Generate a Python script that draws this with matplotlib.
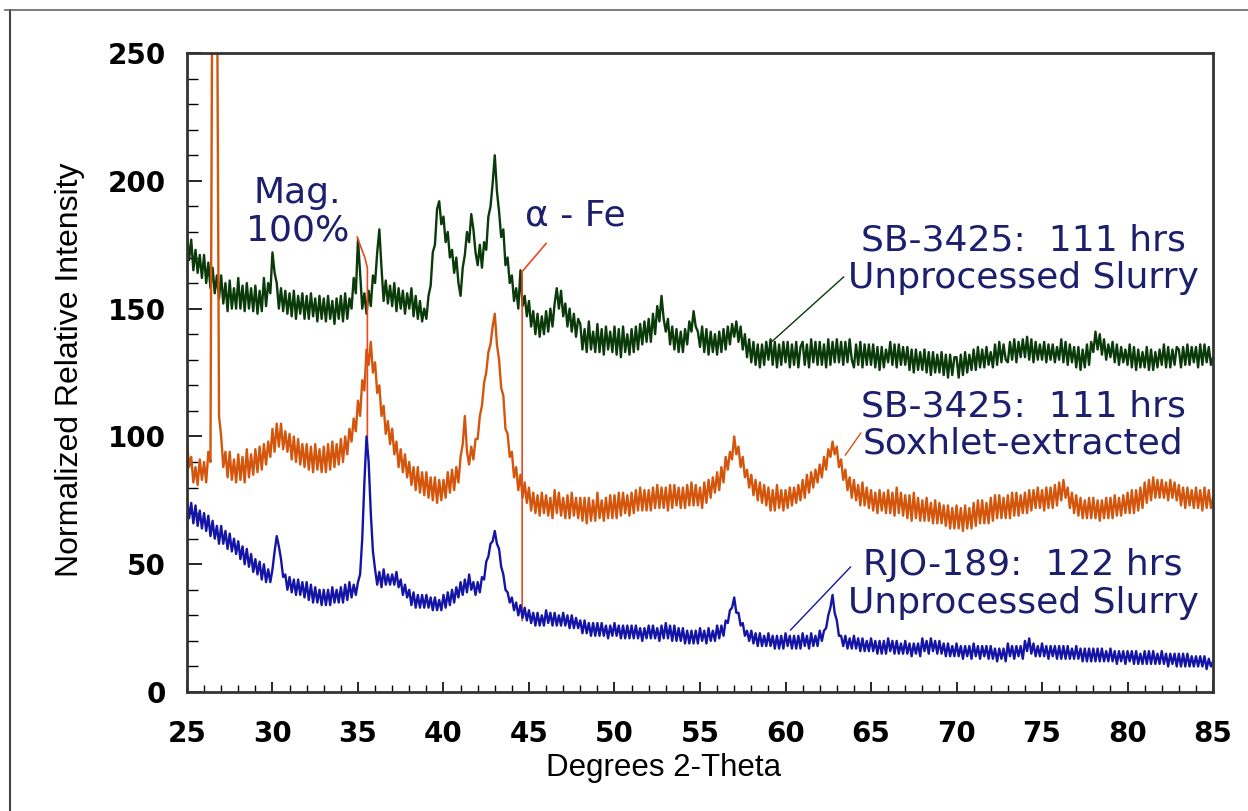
import numpy as np
import matplotlib
matplotlib.use("Agg")
import matplotlib.pyplot as plt
from matplotlib.lines import Line2D
from matplotlib.ticker import MultipleLocator

# 2-theta sampling, 0.125 degree steps from 25 to 85 (one row = one degree)
two_theta = np.linspace(25, 85, 481)

# SB-3425: 111 hrs, unprocessed slurry (green)
sb_unprocessed = [
    180, 169, 177, 165, 173, 164, 171, 162,
    171, 160, 168, 158, 166, 156, 163, 154,
    163, 152, 160, 149, 161, 150, 158, 150,
    162, 150, 159, 149, 160, 150, 158, 149,
    159, 148, 157, 149, 162, 151, 160, 156,
    172, 164, 160, 150, 158, 149, 157, 148,
    156, 147, 157, 146, 155, 148, 156, 146,
    155, 146, 156, 147, 154, 145, 155, 146,
    154, 145, 155, 146, 153, 144, 154, 146,
    155, 145, 156, 146, 154, 150, 162, 156,
    177, 164, 150, 156, 148, 157, 151, 163,
    160, 172, 181, 166, 153, 161, 152, 159,
    151, 160, 149, 158, 150, 157, 148, 156,
    150, 158, 147, 155, 146, 153, 145, 150,
    146, 155, 159, 172, 175, 189, 192, 183,
    186, 176, 180, 170, 173, 164, 170, 160,
    155, 166, 171, 180, 176, 187, 181, 172,
    167, 175, 166, 176, 173, 186, 190, 199,
    210, 196, 188, 178, 181, 167, 170, 160,
    163, 153, 158, 150, 165, 151, 155, 147,
    153, 143, 149, 140, 148, 139, 147, 140,
    149, 141, 150, 143, 152, 158, 150, 157,
    147, 152, 143, 150, 141, 148, 139, 146,
    144, 134, 142, 133, 145, 134, 141, 133,
    144, 133, 142, 132, 143, 134, 141, 133,
    143, 132, 142, 131, 143, 133, 140, 132,
    142, 133, 143, 134, 144, 136, 145, 137,
    146, 137, 148, 140, 151, 145, 155, 146,
    141, 146, 136, 143, 134, 142, 133, 141,
    133, 142, 136, 145, 141, 149, 143, 141,
    135, 143, 133, 142, 132, 141, 133, 140,
    132, 141, 133, 142, 134, 143, 136, 144,
    139, 145, 137, 143, 134, 140, 131, 138,
    129, 137, 128, 136, 127, 136, 128, 137,
    130, 138, 128, 137, 127, 136, 128, 137,
    129, 137, 127, 136, 128, 137, 127, 135,
    137, 128, 136, 127, 138, 129, 137, 128,
    137, 128, 136, 127, 138, 128, 137, 129,
    138, 129, 137, 128, 137, 129, 138, 130,
    127, 136, 128, 137, 127, 136, 128, 136,
    128, 136, 127, 135, 126, 135, 127, 134,
    129, 137, 128, 136, 127, 136, 128, 135,
    128, 135, 126, 134, 125, 134, 126, 133,
    126, 134, 125, 133, 124, 133, 125, 132,
    125, 133, 124, 132, 123, 132, 124, 131,
    131, 123, 132, 124, 133, 125, 132, 126,
    134, 126, 135, 127, 134, 127, 135, 128,
    133, 127, 136, 128, 137, 129, 136, 130,
    129, 137, 130, 138, 129, 137, 131, 138,
    131, 139, 130, 138, 129, 137, 130, 136,
    130, 137, 129, 136, 130, 136, 129, 135,
    130, 138, 129, 137, 128, 136, 129, 135,
    127, 135, 126, 134, 127, 136, 128, 137,
    133, 141, 134, 140, 132, 138, 130, 136,
    131, 137, 129, 136, 128, 135, 129, 134,
    128, 136, 127, 135, 126, 134, 127, 133,
    127, 135, 126, 134, 126, 133, 127, 134,
    128, 136, 127, 135, 127, 134, 128, 135,
    134, 127, 135, 128, 136, 128, 135, 129,
    135, 127, 136, 128, 136, 129, 135, 128,
    131,
]

# SB-3425: 111 hrs, Soxhlet-extracted (orange)
sb_soxhlet = [
    98, 88, 92, 82, 88, 81, 91, 83,
    90, 82, 94, 90, 320, 330, 300, 108,
    100, 88, 94, 84, 94, 83, 91, 82,
    93, 83, 92, 82, 95, 84, 93, 85,
    95, 86, 96, 87, 97, 89, 98, 92,
    103, 94, 105, 96, 105, 95, 102, 94,
    101, 91, 100, 90, 99, 89, 97, 88,
    97, 87, 96, 86, 97, 87, 95, 86,
    96, 86, 97, 87, 98, 88, 97, 89,
    99, 90, 100, 93, 103, 98, 107, 102,
    114, 108, 122, 118, 134, 128, 137, 125,
    129, 117, 120, 108, 112, 101, 106, 97,
    103, 93, 98, 88, 95, 86, 93, 84,
    90, 81, 88, 79, 88, 78, 86, 77,
    86, 76, 84, 75, 84, 74, 83, 75,
    83, 76, 86, 78, 87, 79, 88, 82,
    92, 97, 108, 94, 89, 96, 91, 99,
    99, 108, 112, 121, 125, 133, 136, 143,
    148, 136, 130, 119, 116, 103, 101, 92,
    94, 84, 88, 79, 85, 76, 82, 74,
    80, 71, 78, 70, 77, 69, 78, 70,
    77, 69, 76, 68, 79, 70, 78, 69,
    76, 68, 77, 68, 78, 69, 76, 68,
    76, 67, 76, 66, 76, 67, 75, 67,
    78, 68, 75, 67, 76, 68, 77, 68,
    77, 68, 78, 69, 78, 70, 77, 69,
    78, 70, 79, 71, 80, 71, 79, 71,
    79, 71, 80, 72, 81, 72, 80, 72,
    80, 71, 81, 72, 81, 73, 80, 72,
    80, 72, 81, 73, 82, 73, 81, 73,
    80, 72, 82, 74, 83, 76, 84, 78,
    86, 79, 88, 82, 92, 87, 94, 91,
    100, 93, 96, 88, 92, 84, 87, 80,
    85, 77, 83, 75, 82, 74, 81, 73,
    80, 71, 79, 71, 81, 72, 79, 71,
    79, 72, 80, 73, 80, 74, 81, 75,
    83, 76, 85, 78, 86, 80, 87, 82,
    89, 84, 92, 87, 95, 92, 98, 93,
    96, 88, 91, 83, 87, 79, 84, 76,
    83, 75, 81, 73, 82, 73, 80, 72,
    79, 71, 78, 70, 79, 71, 78, 70,
    79, 70, 78, 69, 80, 70, 78, 69,
    77, 68, 77, 67, 78, 68, 76, 67,
    75, 67, 76, 67, 74, 66, 75, 66,
    74, 66, 73, 65, 73, 64, 72, 64,
    73, 64, 72, 63, 73, 64, 72, 64,
    74, 65, 75, 66, 75, 66, 74, 66,
    76, 67, 77, 68, 77, 68, 76, 68,
    77, 68, 78, 69, 78, 69, 77, 70,
    78, 70, 79, 71, 79, 72, 80, 72,
    79, 71, 80, 72, 80, 72, 81, 73,
    82, 75, 83, 76, 80, 72, 78, 70,
    77, 69, 76, 68, 75, 68, 76, 68,
    76, 68, 75, 67, 75, 68, 76, 68,
    76, 68, 77, 69, 76, 69, 77, 70,
    78, 70, 79, 70, 79, 71, 80, 72,
    82, 74, 83, 75, 84, 76, 83, 76,
    83, 76, 82, 75, 83, 76, 82, 75,
    81, 73, 80, 72, 80, 73, 79, 72,
    80, 72, 79, 71, 80, 72, 79, 72,
    76,
]

# RJO-189: 122 hrs, unprocessed slurry (blue)
rjo_unprocessed = [
    76, 68, 74, 66, 73, 65, 71, 64,
    70, 63, 69, 61, 67, 60, 65, 58,
    65, 58, 63, 56, 62, 55, 60, 54,
    59, 52, 57, 50, 56, 49, 54, 47,
    52, 46, 51, 44, 50, 43, 48, 43,
    48, 55, 61, 57, 52, 45, 46, 40,
    45, 39, 44, 38, 44, 38, 43, 37,
    43, 36, 42, 35, 41, 35, 40, 34,
    40, 34, 40, 34, 41, 35, 40, 35,
    41, 35, 42, 36, 43, 37, 42, 38,
    43, 46, 60, 82, 100, 90, 70, 55,
    48, 42, 47, 41, 48, 42, 46, 42,
    46, 42, 47, 41, 44, 38, 42, 37,
    40, 34, 39, 33, 38, 33, 38, 33,
    38, 33, 37, 32, 37, 32, 36, 32,
    38, 33, 39, 34, 40, 35, 41, 37,
    43, 38, 44, 39, 46, 40, 43, 38,
    43, 39, 45, 44, 51, 53, 58, 59,
    63, 58, 56, 49, 46, 40, 39, 35,
    37, 32, 35, 30, 34, 29, 33, 28,
    32, 27, 31, 26, 31, 26, 30, 26,
    32, 27, 31, 26, 31, 26, 30, 26,
    31, 26, 30, 25, 30, 25, 29, 25,
    28, 23, 28, 23, 27, 22, 27, 22,
    27, 22, 27, 22, 26, 21, 26, 22,
    27, 22, 26, 21, 26, 21, 26, 21,
    26, 21, 26, 21, 25, 20, 25, 21,
    26, 21, 26, 21, 25, 20, 26, 21,
    27, 21, 26, 20, 26, 20, 25, 20,
    25, 19, 24, 19, 24, 19, 24, 19,
    25, 20, 24, 19, 25, 20, 24, 20,
    26, 21, 26, 22, 28, 27, 32, 33,
    37, 31, 31, 26, 27, 22, 24, 20,
    24, 19, 23, 18, 23, 18, 22, 18,
    23, 18, 22, 17, 22, 17, 22, 17,
    23, 18, 22, 17, 22, 17, 22, 17,
    23, 18, 22, 17, 23, 18, 22, 18,
    24, 20, 24, 25, 30, 33, 38, 31,
    28, 22, 22, 18, 22, 17, 21, 17,
    22, 17, 21, 16, 21, 16, 20, 16,
    21, 16, 20, 15, 20, 15, 20, 15,
    21, 16, 20, 15, 20, 15, 19, 15,
    20, 15, 19, 14, 19, 15, 19, 14,
    21, 16, 20, 15, 21, 16, 20, 15,
    20, 15, 19, 14, 19, 14, 18, 14,
    19, 14, 18, 13, 18, 14, 18, 13,
    19, 14, 18, 13, 18, 14, 18, 13,
    18, 13, 17, 12, 17, 13, 17, 12,
    19, 14, 18, 13, 18, 14, 18, 13,
    20, 16, 21, 15, 19, 14, 18, 14,
    19, 14, 18, 13, 18, 14, 18, 13,
    18, 13, 18, 13, 18, 13, 17, 13,
    18, 13, 17, 12, 17, 12, 17, 12,
    17, 12, 17, 12, 17, 12, 16, 12,
    17, 12, 16, 11, 16, 12, 16, 11,
    16, 12, 16, 11, 16, 11, 15, 11,
    16, 11, 16, 11, 16, 11, 15, 11,
    16, 11, 15, 10, 15, 11, 15, 10,
    15, 10, 15, 10, 15, 10, 14, 10,
    14, 10, 14, 10, 14, 9, 13, 10,
    12,
]

series_labels = [
    "SB-3425:  111 hrs\nUnprocessed Slurry",
    "SB-3425:  111 hrs\nSoxhlet-extracted",
    "RJO-189:  122 hrs\nUnprocessed Slurry",
]

GREEN = "#0a3a0a"
ORANGE = "#d4550c"
BLUE = "#1414a6"
RED = "#e84a1e"
NAVY = "#1c1f6e"

fig = plt.figure(figsize=(12.48, 8.11), dpi=100)
ax = fig.add_axes([0.1498, 0.1467, 0.8222, 0.7879])

ax.plot(two_theta, sb_unprocessed, color=GREEN, lw=1.7)
ax.plot(two_theta, sb_soxhlet, color=ORANGE, lw=1.7)

# peak markers
ax.plot([34.95, 35.4, 35.55, 35.55], [178, 170, 166, 97], color=RED, lw=1.2)
ax.plot([46.0, 44.6, 44.6], [175.5, 164.5, 28], color=RED, lw=1.2)

ax.plot(two_theta, rjo_unprocessed, color=BLUE, lw=1.7)

# leaders to the series labels
ax.plot([63.4, 59.1], [162.4, 136.5], color=GREEN, lw=1)
ax.plot([64.4, 63.5], [101.3, 92.7], color=ORANGE, lw=1)
ax.plot([63.8, 60.3], [48.9, 24.3], color=BLUE, lw=1)

txt = dict(color=NAVY, fontsize=26, family="DejaVu Sans", ha="center",
           va="center", linespacing=1.12)
ax.text(73.9, 169.4, series_labels[0], **txt)
ax.text(73.9, 104.5, series_labels[1], **txt)
ax.text(73.9, 42.3, series_labels[2], **txt)
ax.text(31.45, 187.8, "Mag.\n100%", **txt)
ax.text(47.7, 186.6, "α - Fe", **txt)

ax.set_xlim(25, 85)
ax.set_ylim(0, 250)
ax.xaxis.set_major_locator(MultipleLocator(5))
ax.xaxis.set_minor_locator(MultipleLocator(1))
ax.yaxis.set_major_locator(MultipleLocator(50))
ax.yaxis.set_minor_locator(MultipleLocator(10))
ax.tick_params(axis="x", which="major", direction="in", length=7.5, width=1.2,
               pad=20, labelsize=20, top=False)
ax.tick_params(axis="x", which="minor", direction="in", length=5, width=1, top=False)
ax.tick_params(axis="y", which="major", direction="in", length=11, width=1.2,
               pad=15, labelsize=20, right=False)
ax.tick_params(axis="y", which="minor", direction="in", length=8, width=1, right=False)
for lab in ax.get_xticklabels() + ax.get_yticklabels():
    lab.set_family("DejaVu Sans")
    lab.set_weight("bold")

for sp in ax.spines.values():
    sp.set_linewidth(2)
    sp.set_color("#333333")

ax.set_xlabel("Degrees 2-Theta", family="Liberation Sans", fontsize=22.5, va="center")
ax.set_ylabel("Normalized Relative Intensity", family="Liberation Sans", fontsize=23,
              va="center")
ax.xaxis.set_label_coords(0.464, -0.119)
ax.yaxis.set_label_coords(-0.114, 0.504)

# outer frame lines
fig.add_artist(Line2D([10 / 1248, 10 / 1248], [0, 1 - 10 / 811], color="#444444", lw=1.5))
fig.add_artist(Line2D([5 / 1248, 1], [1 - 10 / 811, 1 - 10 / 811], color="#666666", lw=1.2))

fig.savefig("out.png", dpi=100)
